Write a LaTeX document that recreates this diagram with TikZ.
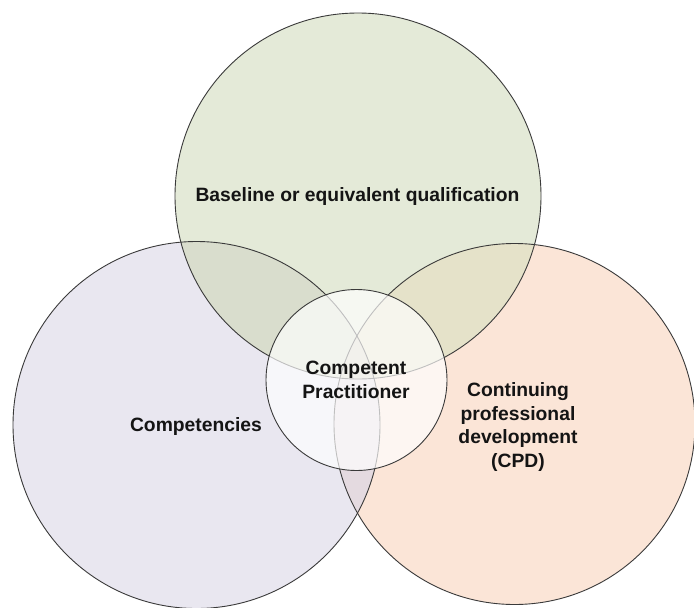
\documentclass[tikz,border=0pt]{standalone}
\usepackage{fontspec}
\setmainfont{Liberation Sans}
\definecolor{cG}{HTML}{E4EAD8}
\definecolor{cP}{HTML}{E9E7F0}
\definecolor{cO}{HTML}{FBE5D7}
\definecolor{cGP}{HTML}{D9DDCD}
\definecolor{cGO}{HTML}{E5E2C9}
\definecolor{cPO}{HTML}{E4DAE0}
\definecolor{cGPO}{HTML}{D8D4C6}
\definecolor{edge}{HTML}{3A3A3A}
\begin{document}
\begin{tikzpicture}[x=1pt,y=-1pt,
  lbl/.style={font=\bfseries\fontsize{19.3}{23.5}\selectfont, align=center, text=black!92, inner sep=0pt},
  ring/.style={draw=edge, line width=0.9pt}]
\useasboundingbox (0,0) rectangle (694,608);
\fill[white] (0,0) rectangle (694,608);
\coordinate (cg) at (358,196);
\coordinate (cp) at (196.5,425);
\coordinate (co) at (514.5,424);
\coordinate (cc) at (356.5,380);
% base fills
\fill[cG] (cg) circle[radius=183pt];
\fill[cP] (cp) circle[radius=183.5pt];
\fill[cO] (co) circle[radius=180.5pt];
% overlaps
\begin{scope}
  \clip (cg) circle[radius=183pt];
  \fill[cGP] (cp) circle[radius=183.5pt];
  \fill[cGO] (co) circle[radius=180.5pt];
  \clip (cp) circle[radius=183.5pt];
  \fill[cGPO] (co) circle[radius=180.5pt];
\end{scope}
\begin{scope}
  \clip (cp) circle[radius=183.5pt];
  \fill[cPO] (co) circle[radius=180.5pt];
  \clip (cg) circle[radius=183pt];
  \fill[cGPO] (co) circle[radius=180.5pt];
\end{scope}
% outlines
\draw[ring] (cg) circle[radius=183pt];
\draw[ring] (cp) circle[radius=183.5pt];
\draw[ring] (co) circle[radius=180.5pt];
% centre circle
\fill[white, fill opacity=0.68] (cc) circle[radius=90.5pt];
\draw[ring] (cc) circle[radius=90.5pt];
% labels
\node[lbl] (tb) at (357.5,197) {Baseline or equivalent qualification};
\node[lbl] (tc) at (196,427) {Competencies};
\node[lbl] (tp) at (356,380) {Competent\\Practitioner};
\node[lbl] (td) at (518,427) {Continuing\\professional\\development\\(CPD)};
\end{tikzpicture}
\end{document}
